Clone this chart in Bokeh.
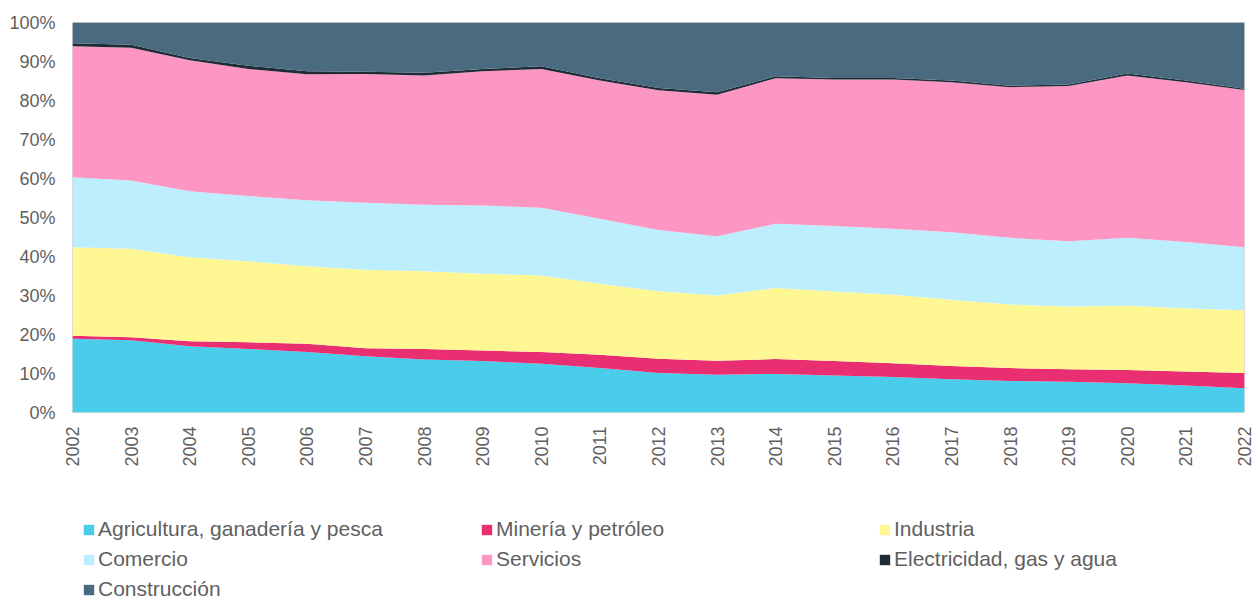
from bokeh.plotting import figure
from bokeh.models import ColumnDataSource, Range1d, FixedTicker, PrintfTickFormatter, Legend, LegendItem
from bokeh.layouts import column
from bokeh.embed import file_html
from bokeh.resources import INLINE
import math

years = list(range(2002, 2023))
agricultura = [18.9, 18.5, 17.0, 16.3, 15.5, 14.4, 13.6, 13.2, 12.5, 11.4, 10.1, 9.7, 9.9, 9.5, 9.1, 8.5, 8.1, 7.9, 7.5, 6.9, 6.2]
mineria = [0.8, 0.8, 1.3, 1.7, 2.1, 2.1, 2.7, 2.7, 3.0, 3.4, 3.7, 3.6, 3.8, 3.7, 3.5, 3.4, 3.3, 3.2, 3.4, 3.6, 3.9]
industria = [22.7, 22.7, 21.5, 20.8, 19.9, 20.1, 19.9, 19.7, 19.6, 18.2, 17.3, 16.7, 18.2, 17.8, 17.6, 17.0, 16.3, 16.1, 16.5, 16.2, 16.1]
comercio = [17.9, 17.5, 16.9, 16.7, 16.9, 17.2, 17.1, 17.5, 17.4, 16.7, 15.7, 15.2, 16.5, 16.8, 16.9, 17.3, 17.1, 16.7, 17.4, 17.0, 16.2]
servicios = [33.6, 34.0, 33.6, 32.6, 32.3, 33.0, 33.1, 34.4, 35.6, 35.4, 35.8, 36.3, 37.3, 37.6, 38.3, 38.5, 38.6, 39.8, 41.6, 41.0, 40.3]
electricidad = [0.8, 0.8, 0.6, 0.8, 0.8, 0.6, 0.7, 0.6, 0.7, 0.6, 0.6, 0.6, 0.5, 0.4, 0.4, 0.4, 0.4, 0.4, 0.5, 0.4, 0.3]
construccion = [5.3, 5.7, 9.1, 11.1, 12.5, 12.6, 12.9, 11.9, 11.2, 14.3, 16.8, 17.9, 13.8, 14.2, 14.2, 14.9, 16.2, 15.9, 13.1, 14.9, 17.0]

keys = ["agricultura", "mineria", "industria", "comercio", "servicios", "electricidad", "construccion"]
labels = ["Agricultura, ganadería y pesca", "Minería y petróleo", "Industria", "Comercio",
          "Servicios", "Electricidad, gas y agua", "Construcción"]
colors = ["#49CDEB", "#E92F72", "#FEF794", "#BDEEFD", "#FD96C2", "#1F2C38", "#4A6A80"]
y_ticks = list(range(0, 101, 10))

series = [agricultura, mineria, industria, comercio, servicios, electricidad, construccion]
data = {"year": years}
for k, s in zip(keys, series):
    data[k] = s
source = ColumnDataSource(data)

font = "Liberation Sans"
txt = "#5F5F5F"

# ---- main chart ----
p = figure(width=1254, height=480, output_backend="svg", toolbar_location=None,
           x_range=Range1d(2002, 2022), y_range=Range1d(0, 100),
           min_border_left=72, min_border_right=10, min_border_top=22, min_border_bottom=68)

renderers = p.varea_stack(stackers=keys, x="year", color=colors, source=source)

p.outline_line_color = "#D9D9D9"
p.outline_line_width = 1
p.grid.visible = False

p.yaxis.ticker = FixedTicker(ticks=y_ticks)
p.yaxis.formatter = PrintfTickFormatter(format="%d%%")
p.xaxis.ticker = FixedTicker(ticks=years)
p.xaxis.major_label_orientation = math.pi / 2
for ax in (p.xaxis, p.yaxis):
    ax.axis_line_color = None
    ax.major_tick_line_color = None
    ax.minor_tick_line_color = None
    ax.major_tick_in = 0
    ax.major_tick_out = 0
    ax.minor_tick_in = 0
    ax.minor_tick_out = 0
    ax.major_label_text_font = font
    ax.major_label_text_color = txt
p.yaxis.major_label_standoff = 17
p.xaxis.major_label_standoff = 14
p.yaxis.major_label_text_font_size = "18px"
p.xaxis.major_label_text_font_size = "18px"

# ---- legend strip (same series, drawn outside its visible range) ----
lg = figure(width=1254, height=119, output_backend="svg", toolbar_location=None,
            x_range=Range1d(2002, 2022), y_range=Range1d(1000, 1001),
            min_border=0)
lg.axis.visible = False
lg.grid.visible = False
lg.outline_line_color = None
lg_renderers = lg.varea_stack(stackers=keys, x="year", color=colors, source=source)

items = [LegendItem(label=l, renderers=[r]) for l, r in zip(labels, lg_renderers)]
legend = Legend(items=items, orientation="horizontal", ncols=3,
                location=(10, -2), border_line_color=None, background_fill_alpha=0,
                label_text_font=font, label_text_font_size="21px", label_text_color=txt,
                glyph_width=13, glyph_height=13, label_width=376, label_height=24,
                label_standoff=3, spacing=6, padding=0, margin=0)
lg.add_layout(legend, "center")

layout = column(p, lg, spacing=0)
open("out.html", "w").write(file_html(layout, INLINE))
